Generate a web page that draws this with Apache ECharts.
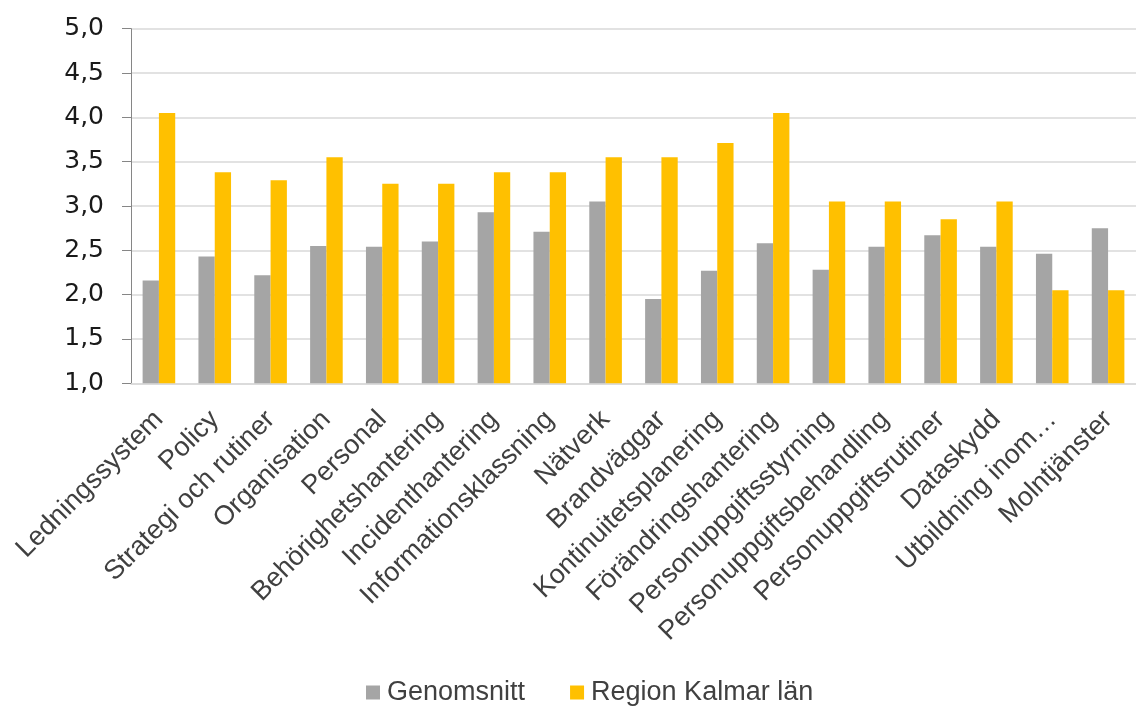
<!DOCTYPE html>
<html>
<head>
<meta charset="utf-8">
<script src="https://cdn.jsdelivr.net/npm/echarts@6/dist/echarts.min.js"></script>
<style>
html,body{margin:0;padding:0;background:#fff;}
#c{width:1136px;height:707px;}
</style>
</head>
<body>
<div id="c"></div>
<script>
const categories = ["Ledningssystem","Policy","Strategi och rutiner","Organisation","Personal","Behörighetshantering","Incidenthantering","Informationsklassning","Nätverk","Brandväggar","Kontinuitetsplanering","Förändringshantering","Personuppgiftsstyrning","Personuppgiftsbehandling","Personuppgiftsrutiner","Dataskydd","Utbildning inom…","Molntjänster"];
const genomsnitt = [2.16,2.43,2.22,2.55,2.54,2.60,2.93,2.71,3.05,1.95,2.27,2.58,2.28,2.54,2.67,2.54,2.46,2.75];
const regionKalmar = [4.05,3.38,3.29,3.55,3.25,3.25,3.38,3.38,3.55,3.55,3.71,4.05,3.05,3.05,2.85,3.05,2.05,2.05];
const seriesNames = ["Genomsnitt","Region Kalmar län"];
const yTicks = {min:1, max:5, interval:0.5};

const chart = echarts.init(document.getElementById('c'), null, {renderer:'canvas'});
chart.setOption({
  animation:false,
  backgroundColor:'#ffffff',
  grid:{left:131, top:28.7, width:1017, height:354.6, containLabel:false},
  legend:{
    left:361, top:674, itemWidth:14, itemHeight:14, itemGap:45, icon:'rect',
    textStyle:{fontFamily:'Liberation Sans', fontSize:27, color:'#404040', padding:[0,0,0,2]},
    data:seriesNames
  },
  xAxis:{
    type:'category', data:categories,
    axisLine:{show:true, lineStyle:{color:'#D9D9D9', width:1.5}},
    axisTick:{show:false},
    axisLabel:{interval:0, rotate:45, margin:32, fontFamily:'Liberation Sans', fontSize:27, color:'#404040'}
  },
  yAxis:{
    type:'value', min:yTicks.min, max:yTicks.max, interval:yTicks.interval,
    axisLine:{show:true, lineStyle:{color:'#868686', width:1}},
    axisTick:{show:true, inside:false, length:9, lineStyle:{color:'#868686'}},
    splitLine:{show:true, lineStyle:{color:'#D9D9D9', width:1.5}},
    axisLabel:{margin:27, fontFamily:'DejaVu Sans', fontSize:25, color:'#1a1a1a',
      formatter:v=>v.toFixed(1).replace('.',',')}
  },
  series:[
    {name:seriesNames[0], type:'bar', data:genomsnitt, barWidth:16.3, barGap:'0%',
     itemStyle:{color:'#A5A5A5'}},
    {name:seriesNames[1], type:'bar', data:regionKalmar, barWidth:16.3, barGap:'0%',
     itemStyle:{color:'#FFC000'}}
  ]
});
</script>
</body>
</html>
